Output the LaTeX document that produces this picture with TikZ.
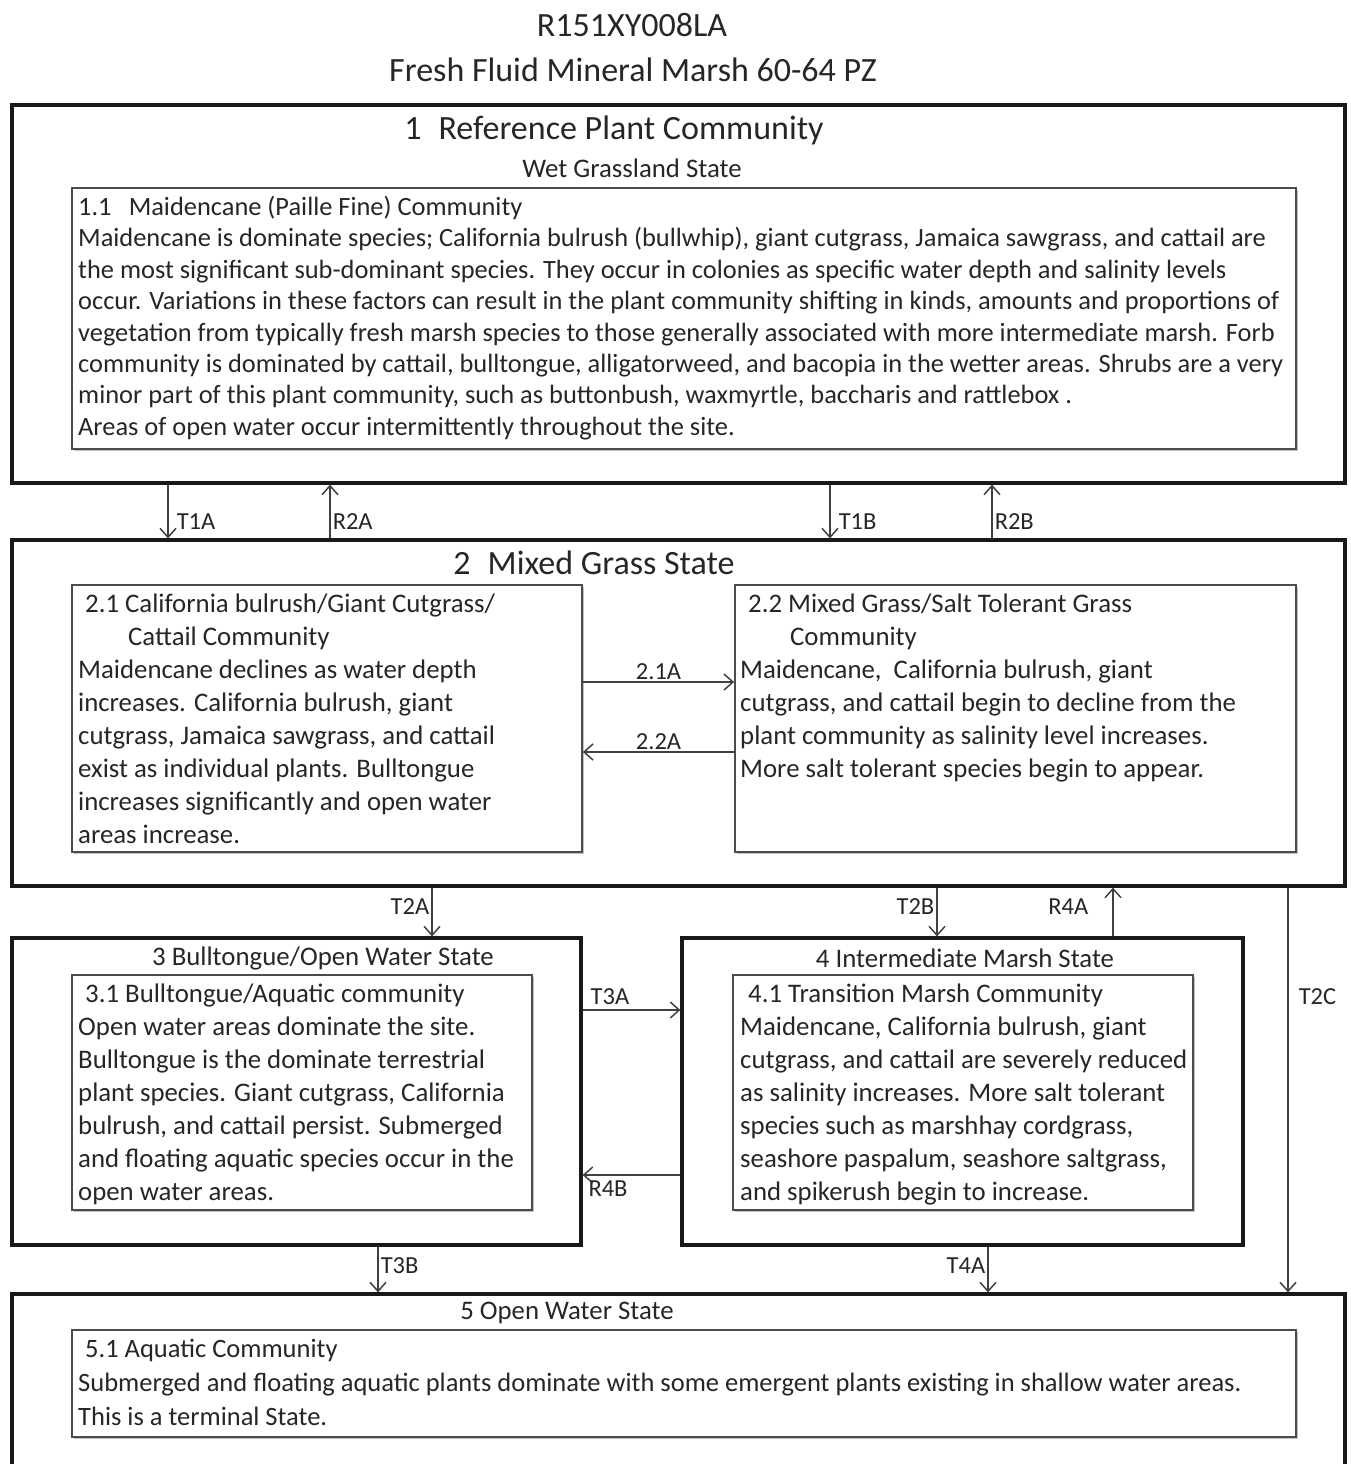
\documentclass[tikz,border=0pt]{standalone}
\usepackage{fontspec}
\setmainfont{Carlito}
\usetikzlibrary{arrows.meta,positioning,fit,shadows}

\begin{document}
\begin{tikzpicture}[
      x=1pt, y=-1pt,
      statebox/.style={draw=black!90, line width=3.2pt, inner sep=0pt},
      commbox/.style={draw=black!70, line width=1.8pt, fill=white, inner sep=0pt,
        drop shadow={shadow xshift=2pt, shadow yshift=-2pt, fill=black!40, opacity=0.6}},
      title/.style={font=\fontsize{34}{40}\selectfont, text=black!85},
      bighead/.style={font=\fontsize{34}{40}\selectfont, text=black!85},
      subhead/.style={font=\fontsize{26.8}{31}\selectfont, text=black!85},
      bodytext/.style={align=left, anchor=north west, inner sep=0pt, text=black!85, font=\fontsize{26.8}{33}\selectfont},
      arrow/.style={-{Straight Barb[length=9pt, width=16pt]}, line width=1.5pt, draw=black!75},
      tlabel/.style={font=\fontsize{24.5}{28}\selectfont, text=black!85, inner sep=2pt}
  ]
  \clip (0,0) rectangle (1350,1464);

  % States
  \node[statebox, fit={(12,105) (1345,483)}] (s1) {};
  \node[statebox, fit={(12,540) (1345,886)}] (s2) {};
  \node[statebox, fit={(12,938) (581,1245)}] (s3) {};
  \node[statebox, fit={(682,938) (1243,1245)}] (s4) {};
  \node[statebox, fit={(12,1294) (1345,1480)}] (s5) {};

  % Communities
  \node[commbox, fit={(72,188) (1296,449)}] (c11) {};
  \node[commbox, fit={(72,585) (582,852)}] (c21) {};
  \node[commbox, fit={(735,585) (1296,852)}] (c22) {};
  \node[commbox, fit={(72,975) (532,1210)}] (c31) {};
  \node[commbox, fit={(733,975) (1193,1210)}] (c41) {};
  \node[commbox, fit={(72,1330) (1296,1437)}] (c51) {};

  % Titles
  \node[title] (code) at (632,25) {R151XY008LA};
  \node[title] (name) at (633,70) {Fresh Fluid Mineral Marsh 60-64 PZ};
  \node[bighead] (h1) at (614,130) {1\hspace{0.5em}Reference Plant Community};
  \node[subhead] (h1b) at (632,168) {Wet Grassland State};
  \node[bighead] (h2) at (594,563) {2\hspace{0.5em}Mixed Grass State};
  \node[subhead] (h3) at (323,958) {3 Bulltongue/Open Water State};
  \node[subhead] (h4) at (965,958) {4 Intermediate Marsh State};
  \node[subhead] (h5) at (567,1313) {5 Open Water State};

  % Community texts
  \node[bodytext, font=\fontsize{26.4}{31.4}\selectfont] (t11) at (78,196) {1.1\hspace{0.65em}Maidencane (Paille Fine) Community\\
    Maidencane is dominate species; California bulrush (bullwhip), giant cutgrass, Jamaica sawgrass, and cattail are\\
    the most significant sub-dominant species. They occur in colonies as specific water depth and salinity levels\\
    occur. Variations in these factors can result in the plant community shifting in kinds, amounts and proportions of\\
    vegetation from typically fresh marsh species to those generally associated with more intermediate marsh. Forb\\
    community is dominated by cattail, bulltongue, alligatorweed, and bacopia in the wetter areas. Shrubs are a very\\
    minor part of this plant community, such as buttonbush, waxmyrtle, baccharis and rattlebox .\\
    Areas of open water occur intermittently throughout the site.};
  \node[bodytext] (t21) at (78,594) {\hspace*{7pt}2.1 California bulrush/Giant Cutgrass/\\
    \hspace*{50pt}Cattail Community\\
    Maidencane declines as water depth\\
    increases. California bulrush, giant\\
    cutgrass, Jamaica sawgrass, and cattail\\
    exist as individual plants. Bulltongue\\
    increases significantly and open water\\
    areas increase.};
  \node[bodytext] (t22) at (740,594) {\hspace*{8pt}2.2 Mixed Grass/Salt Tolerant Grass\\
    \hspace*{50pt}Community\\
    Maidencane,\ \ California bulrush, giant\\
    cutgrass, and cattail begin to decline from the\\
    plant community as salinity level increases.\\
    More salt tolerant species begin to appear.};
  \node[bodytext] (t31) at (78,984) {\hspace*{7pt}3.1 Bulltongue/Aquatic community\\
    Open water areas dominate the site.\\
    Bulltongue is the dominate terrestrial\\
    plant species. Giant cutgrass, California\\
    bulrush, and cattail persist. Submerged\\
    and floating aquatic species occur in the\\
    open water areas.};
  \node[bodytext] (t41) at (740,984) {\hspace*{8pt}4.1 Transition Marsh Community\\
    Maidencane, California bulrush, giant\\
    cutgrass, and cattail are severely reduced\\
    as salinity increases. More salt tolerant\\
    species such as marshhay cordgrass,\\
    seashore paspalum, seashore saltgrass,\\
    and spikerush begin to increase.};
  \node[bodytext, font=\fontsize{26.5}{34}\selectfont] (t51) at (78,1339) {\hspace*{7pt}5.1 Aquatic Community\\
    Submerged and floating aquatic plants dominate with some emergent plants existing in shallow water areas.\\
    This is a terminal State.};

  % Arrow positions
  \coordinate (xT1A) at (168,0);
  \coordinate (xR2A) at (330,0);
  \coordinate (xT1B) at (830,0);
  \coordinate (xR2B) at (992,0);
  \coordinate (xT2A) at (432,0);
  \coordinate (xT2B) at (937,0);
  \coordinate (xR4A) at (1113,0);
  \coordinate (xT2C) at (1288,0);
  \coordinate (xT3B) at (378,0);
  \coordinate (xT4A) at (988,0);
  \coordinate (y21A) at (0,682);
  \coordinate (y22A) at (0,752);
  \coordinate (yT3A) at (0,1010);
  \coordinate (yR4B) at (0,1175);

  % Arrows
  \draw[arrow] (s1.south -| xT1A) -- node[tlabel, right=6pt, pos=0.68] {T1A} (s2.north -| xT1A);
  \draw[arrow] (s2.north -| xR2A) -- node[tlabel, right, pos=0.32] {R2A} (s1.south -| xR2A);
  \draw[arrow] (s1.south -| xT1B) -- node[tlabel, right=6pt, pos=0.68] {T1B} (s2.north -| xT1B);
  \draw[arrow] (s2.north -| xR2B) -- node[tlabel, right, pos=0.32] {R2B} (s1.south -| xR2B);
  \draw[arrow] (c21.east |- y21A) -- node[tlabel, above] {2.1A} (c22.west |- y21A);
  \draw[arrow] (c22.west |- y22A) -- node[tlabel, above] {2.2A} (c21.east |- y22A);
  \draw[arrow] (s2.south -| xT2A) -- node[tlabel, left, pos=0.38] {T2A} (s3.north -| xT2A);
  \draw[arrow] (s2.south -| xT2B) -- node[tlabel, left, pos=0.38] {T2B} (s4.north -| xT2B);
  \draw[arrow] (s4.north -| xR4A) -- node[tlabel, left=22pt, pos=0.62] {R4A} (s2.south -| xR4A);
  \draw[arrow] (s2.south -| xT2C) -- node[tlabel, right=8pt, pos=0.27] {T2C} (s5.north -| xT2C);
  \draw[arrow] (s3.east |- yT3A) -- node[tlabel, above=3pt, pos=0.28] {T3A} (s4.west |- yT3A);
  \draw[arrow] (s4.west |- yR4B) -- node[tlabel, below=3pt, pos=0.74] {R4B} (s3.east |- yR4B);
  \draw[arrow] (s3.south -| xT3B) -- node[tlabel, right, pos=0.41] {T3B} (s5.north -| xT3B);
  \draw[arrow] (s4.south -| xT4A) -- node[tlabel, left, pos=0.41] {T4A} (s5.north -| xT4A);

\end{tikzpicture}
\end{document}
